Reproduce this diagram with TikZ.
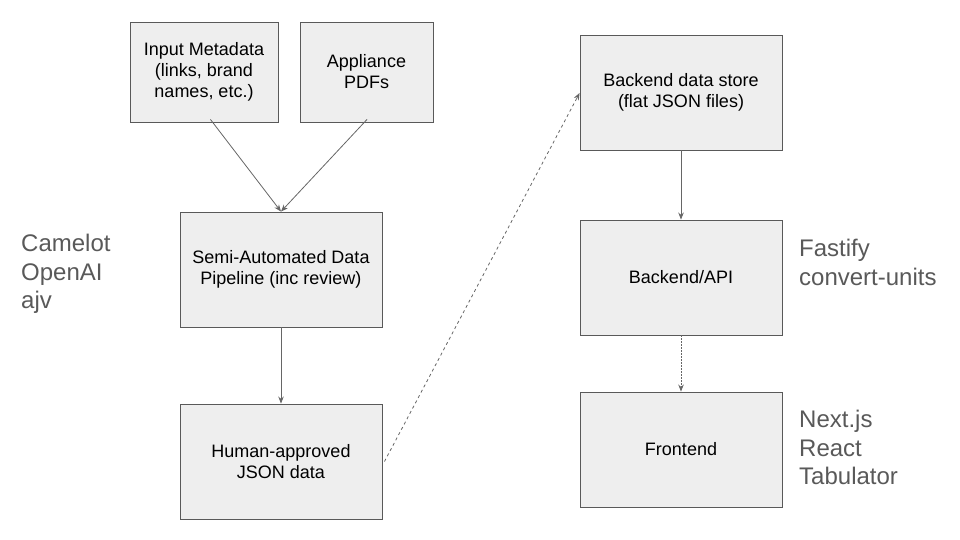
\documentclass[tikz,border=0pt]{standalone}
\usepackage{fontspec}
\setmainfont{Liberation Sans}
\usetikzlibrary{arrows.meta}
\definecolor{boxfill}{HTML}{EEEEEE}
\definecolor{boxline}{HTML}{595959}
\definecolor{sidegray}{HTML}{595959}
\definecolor{arrgray}{HTML}{666666}
\begin{document}
\begin{tikzpicture}[x=1pt,y=-1pt,
  box/.style={draw=boxline,fill=boxfill,line width=0.9pt,inner sep=0pt,align=center,
    font=\fontsize{18}{21}\selectfont,text=black},
  side/.style={anchor=north west,inner sep=0pt,align=left,text=sidegray,
    font=\fontsize{24}{28.5}\selectfont},
  conn/.style={draw=arrgray,line width=0.8pt,-{Stealth[length=7pt,width=5.5pt]}},
  dashconn/.style={conn,dash pattern=on 3pt off 3pt},
  dotconn/.style={conn,dash pattern=on 1.5pt off 1.5pt}]
\useasboundingbox (0,0) rectangle (960,540);
\node[box,minimum width=148pt,minimum height=100pt] (meta) at (204,72) {Input Metadata\\(links, brand\\names, etc.)};
\node[box,minimum width=133pt,minimum height=100pt] (pdfs) at (366.5,72) {Appliance\\PDFs};
\node[box,minimum width=202pt,minimum height=115pt] (pipe) at (281,269.5) {Semi-Automated Data\\Pipeline (inc review)};
\node[box,minimum width=202pt,minimum height=115pt] (human) at (281,461.5) {Human-approved\\JSON data};
\node[box,minimum width=202pt,minimum height=115pt] (store) at (681,92.5) {Backend data store\\(flat JSON files)};
\node[box,minimum width=202pt,minimum height=115pt] (api) at (681,277.5) {Backend/API};
\node[box,minimum width=202pt,minimum height=115pt] (front) at (681,449.5) {Frontend};
\node[side] (tools1) at (21,234) {Camelot\\OpenAI\\ajv};
\node[side] (tools2) at (799,239) {Fastify\\convert-units};
\node[side] (tools3) at (799,410) {Next.js\\React\\Tabulator};
\path[conn] ([xshift=-68pt,yshift=3pt]meta.south east) -- (pipe.north);
\path[conn] ([xshift=0.5pt,yshift=3pt]pdfs.south) -- (pipe.north);
\path[conn] (pipe.south) -- (human.north);
\path[conn] (store.south) -- (api.north);
\path[dotconn] (api.south) -- (front.north);
\path[dashconn] ([xshift=2pt]human.east) -- ([yshift=-0.5pt]store.west);
\end{tikzpicture}
\end{document}
